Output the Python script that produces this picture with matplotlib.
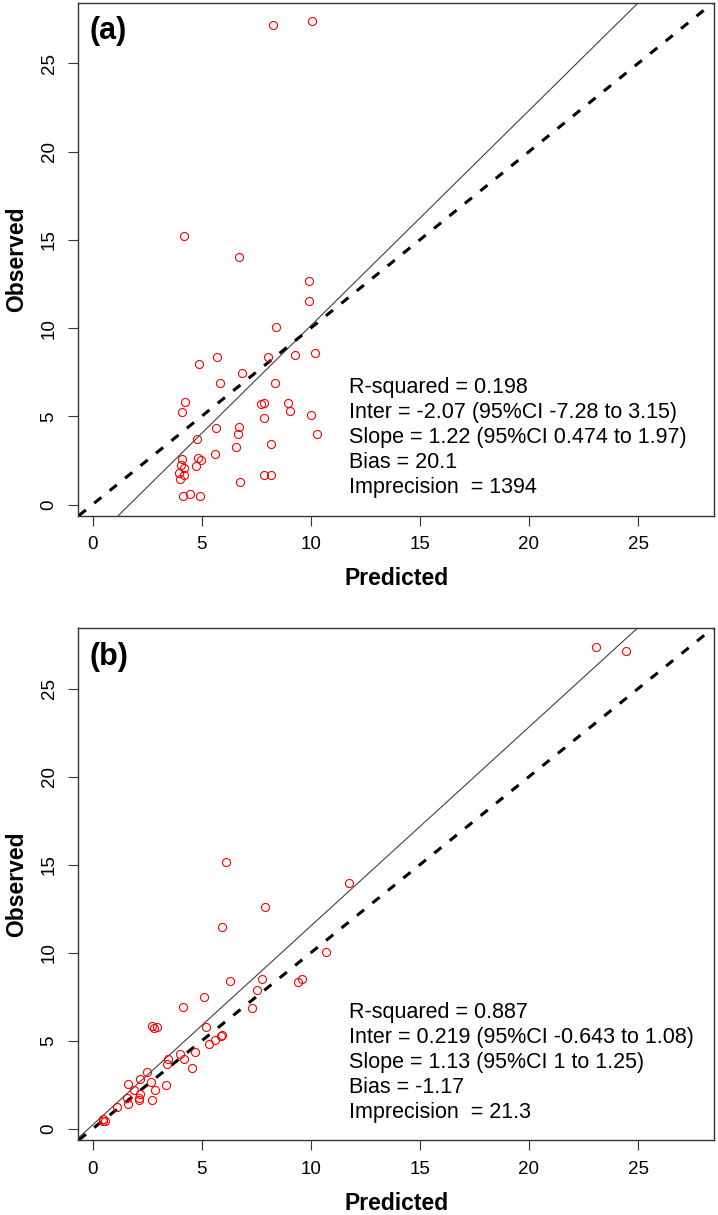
import matplotlib
matplotlib.use("Agg")
import matplotlib.pyplot as plt
import matplotlib.transforms as mtransforms

plt.rcParams["font.family"] = ["Liberation Sans", "DejaVu Sans"]

# panel (a): model predictions vs observed
pred_a = [8.29, 10.08, 4.18, 6.73, 9.90, 9.94, 8.42, 5.71, 4.90, 8.02, 9.27, 10.18,
          6.84, 5.82, 8.36, 4.26, 4.11, 7.73, 7.85, 8.95, 9.06, 10.02, 7.84, 5.67,
          6.69, 6.67, 10.27, 4.81, 6.58, 8.19, 5.60, 4.11, 4.85, 4.98, 4.04, 4.17,
          4.75, 3.98, 4.21, 4.03, 6.78, 7.88, 8.16, 4.15, 4.46, 4.92]
obs_a = [27.15, 27.40, 15.19, 14.03, 12.64, 11.51, 10.06, 8.37, 7.94, 8.37, 8.50, 8.56,
         7.45, 6.88, 6.88, 5.82, 5.26, 5.71, 5.77, 5.75, 5.31, 5.07, 4.88, 4.33,
         4.39, 4.01, 4.01, 3.74, 3.25, 3.44, 2.87, 2.57, 2.65, 2.55, 2.25, 2.06,
         2.19, 1.81, 1.70, 1.44, 1.25, 1.70, 1.70, 0.51, 0.62, 0.51]

# panel (b)
pred_b = [23.08, 24.45, 6.11, 11.76, 7.89, 5.95, 10.69, 6.31, 7.78, 9.40, 9.61, 7.53,
          5.09, 4.13, 7.32, 2.71, 2.82, 2.94, 5.19, 5.93, 5.90, 5.61, 5.35, 4.71,
          4.02, 4.21, 3.45, 3.43, 4.54, 2.48, 2.16, 1.61, 2.68, 1.90, 2.18, 2.13,
          2.12, 2.88, 3.37, 1.57, 1.63, 2.72, 1.11, 0.50, 0.59, 0.47]
obs_b = [27.38, 27.12, 15.15, 13.96, 12.58, 11.46, 10.02, 8.39, 8.53, 8.34, 8.53, 7.88,
         7.47, 6.90, 6.84, 5.84, 5.75, 5.78, 5.77, 5.33, 5.27, 5.07, 4.84, 4.39,
         4.27, 3.99, 3.95, 3.71, 3.44, 3.21, 2.83, 2.57, 2.66, 2.19, 2.00, 1.78,
         1.66, 2.19, 2.51, 1.75, 1.44, 1.64, 1.23, 0.58, 0.45, 0.45]

panel_labels = ["(a)", "(b)"]
intercepts = [-2.07, 0.219]
slopes = [1.22, 1.13]
stats_a = ["R-squared = 0.198",
           "Inter = -2.07 (95%CI -7.28 to 3.15)",
           "Slope = 1.22 (95%CI 0.474 to 1.97)",
           "Bias = 20.1",
           "Imprecision  = 1394"]
stats_b = ["R-squared = 0.887",
           "Inter = 0.219 (95%CI -0.643 to 1.08)",
           "Slope = 1.13 (95%CI 1 to 1.25)",
           "Bias = -1.17",
           "Imprecision  = 21.3"]
ticks = [0, 5, 10, 15, 20, 25]

fig = plt.figure(figsize=(7.18, 12.15), dpi=100)
ax_a = fig.add_axes([0.1091, 0.5756, 0.8854, 0.4222])
ax_b = fig.add_axes([0.1091, 0.0617, 0.8854, 0.4214])

panels = [(ax_a, pred_a, obs_a, stats_a), (ax_b, pred_b, obs_b, stats_b)]
for i, (ax, pred, obs, stats) in enumerate(panels):
    ax.plot(pred, obs, "o", mfc="none", mec="red", ms=5.8, mew=0.8, zorder=3)
    ax.axline((0, intercepts[i]), slope=slopes[i], color="#404040", lw=0.8)
    ax.axline((0, 0), slope=1, color="black", lw=2.2, dashes=(3, 3.5))
    ax.set_xlim(-0.65, 28.48)
    ax.set_ylim(-0.63, 28.44)
    ax.set_xticks(ticks)
    ax.set_yticks(ticks)
    ax.tick_params(direction="out", length=7, width=0.8, color="#333333",
                   labelsize=13.5, pad=8)
    for lab in ax.get_yticklabels():
        lab.set_rotation(90)
        lab.set_va("center")
    for s in ax.spines.values():
        s.set_color("#333333")
        s.set_linewidth(1.0)

    ax.set_xlabel("Predicted", fontsize=16.5, fontweight="bold", va="center")
    ax.xaxis.set_label_coords(0.5, -0.123)
    ax.set_ylabel("Observed", fontsize=16.5, fontweight="bold", va="center")
    ax.yaxis.set_label_coords(-0.097, 0.5)

    ax.text(0.018, 0.944, panel_labels[i], transform=ax.transAxes,
            fontsize=22, fontweight="bold", ha="left", va="center")

    for k, line in enumerate(stats):
        tr = mtransforms.offset_copy(ax.transAxes, fig=fig, y=-18 * k, units="points")
        ax.text(0.426, 0.249, line, transform=tr, fontsize=15.5, ha="left", va="center")

fig.savefig("out.png", dpi=100)
